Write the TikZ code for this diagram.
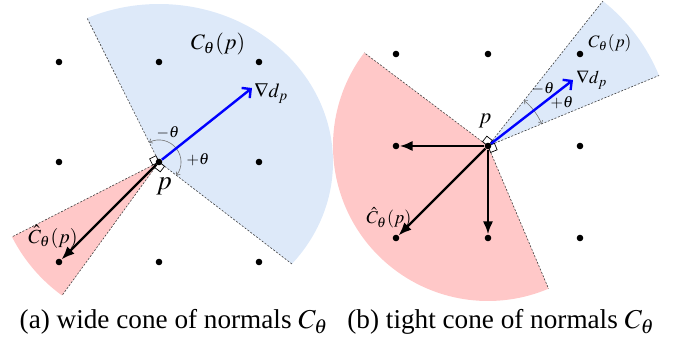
\documentclass[tikz,border=0pt]{standalone}
\usepackage{mathptmx}
\usepackage{fontspec}
\setmainfont{Liberation Serif}
\usetikzlibrary{arrows.meta,calc}
\definecolor{coneblue}{RGB}{221,233,249}
\definecolor{conered}{RGB}{255,200,200}
\definecolor{gradblue}{RGB}{0,0,255}
\begin{document}
\begin{tikzpicture}[x=0.5pt,y=0.5pt,
  coneedge/.style={draw=black!75,line width=0.3pt,dash pattern=on 1pt off 0.8pt},
  gridpt/.style={circle,fill=black,inner sep=0pt,minimum size=3.3pt},
  normarrow/.style={draw=black,line width=1.2pt,-{Latex[length=6.5pt,width=5.2pt]}},
  gradarrow/.style={draw=gradblue,line width=1.2pt,-{Straight Barb[length=3.2pt,width=6.5pt,line width=1.2pt]}},
  anglearc/.style={draw=black!55,line width=0.3pt,-{To[length=1.6pt,width=2.6pt]}},
  rightmark/.style={draw=black,fill=white,line width=0.35pt},
  lbl/.style={inner sep=0pt}]
\useasboundingbox (0,0) rectangle (677,343);
\clip (0,0) rectangle (677,343);

% ---------------- panel (a) ----------------
\coordinate (pac) at (159,181);
\coordinate (abr) at ($(pac)+(-40.2:174 and 158)$);
\coordinate (abl) at ($(pac)+(114.4:174 and 158)$);
\coordinate (aru) at ($(pac)+(207:165)$);
\coordinate (arl) at ($(pac)+(234:165)$);
\fill[coneblue] (pac) -- (abr) arc[start angle=-40.2,end angle=114.4,x radius=174,y radius=158] -- cycle;
\fill[conered] (pac) -- (aru) arc[start angle=207,end angle=234,radius=165] -- cycle;
\draw[coneedge] (pac) -- (abr);
\draw[coneedge] (pac) -- (abl);
\draw[coneedge] (pac) -- (aru);
\draw[coneedge] (pac) -- (arl);
\draw[anglearc] ($(pac)+(39:22)$) arc[start angle=39,end angle=116.4,radius=22];
\draw[anglearc] ($(pac)+(39:22)$) arc[start angle=39,end angle=-37.5,radius=22];
\draw[rightmark] (pac) -- ++(116.4:7) -- ++(206.4:7) -- ++(296.4:7) -- cycle;
\draw[rightmark] (pac) -- ++(-37.5:7) -- ++(232.5:7) -- ++(142.5:7) -- cycle;
\foreach \i/\x in {1/59,2/159,3/259}
  \foreach \j/\y in {1/281,2/181,3/81}
    \node[gridpt] (a\i\j) at (\x,\y) {};
\coordinate (ga) at (252,255);
\draw[gradarrow] (a22) -- (ga);
\draw[normarrow] (a22) -- (a13);
\node[lbl,font=\fontsize{11}{13}\selectfont] (aC) at (218,299) {$C_\theta(p)$};
\node[lbl,anchor=west,font=\fontsize{10}{12}\selectfont] (aG) at (254,250) {$\nabla d_p$};
\node[lbl,font=\fontsize{13.5}{15}\selectfont] (aP) at (164,157) {$p$};
\node[lbl,font=\fontsize{10}{12}\selectfont] (aCh) at (53,106) {$\hat{C}_\theta(p)$};
\node[lbl,font=\fontsize{8}{10}\selectfont] (amt) at (168,210) {$-\theta$};
\node[lbl,font=\fontsize{8}{10}\selectfont] (apt) at (198,183) {$+\theta$};

% ---------------- panel (b) ----------------
\coordinate (pbc) at (488,197);
\coordinate (bbu) at ($(pbc)+(51.6:185)$);
\coordinate (bbl) at ($(pbc)+(22.4:185)$);
\coordinate (bru) at ($(pbc)+(143:155)$);
\coordinate (brl) at ($(pbc)+(293:155)$);
\fill[coneblue] (pbc) -- (bbl) arc[start angle=22.4,end angle=51.6,radius=185] -- cycle;
\fill[conered] (pbc) -- (bru) arc[start angle=143,end angle=293,radius=155] -- cycle;
\draw[coneedge] (pbc) -- (bbu);
\draw[coneedge] (pbc) -- (bbl);
\draw[coneedge] (pbc) -- (bru);
\draw[coneedge] (pbc) -- (brl);
\draw[anglearc] ($(pbc)+(37.5:58)$) arc[start angle=37.5,end angle=51.6,radius=58];
\draw[anglearc] ($(pbc)+(37.5:58)$) arc[start angle=37.5,end angle=22.4,radius=58];
\draw[rightmark] (pbc) -- ++(51.6:7) -- ++(141.6:7) -- ++(231.6:7) -- cycle;
\draw[rightmark] (pbc) -- ++(22.4:7) -- ++(292.4:7) -- ++(202.4:7) -- cycle;
\foreach \i/\x in {1/396,2/488,3/580}
  \foreach \j/\y in {1/289,2/197,3/105}
    \node[gridpt] (b\i\j) at (\x,\y) {};
\coordinate (gb) at (573,263);
\draw[gradarrow] (b22) -- (gb);
\draw[normarrow] (b22) -- (b12);
\draw[normarrow] (b22) -- (b23);
\draw[normarrow] (b22) -- (b13);
\node[lbl,font=\fontsize{8.7}{10}\selectfont] (bC) at (610,300) {$C_\theta(p)$};
\node[lbl,anchor=west,font=\fontsize{9}{11}\selectfont] (bG) at (576,263) {$\nabla d_p$};
\node[lbl,font=\fontsize{11}{13}\selectfont] (bP) at (485,222) {$p$};
\node[lbl,font=\fontsize{9}{11}\selectfont] (bCh) at (389,125) {$\hat{C}_\theta(p)$};
\node[lbl,font=\fontsize{8}{10}\selectfont] (bmt) at (543,254) {$-\theta$};
\node[lbl,font=\fontsize{8}{10}\selectfont] (bpt) at (562,240) {$+\theta$};

% ---------------- captions ----------------
\node[lbl,font=\fontsize{13.6}{16}\selectfont] (capa) at (174,21) {(a) wide cone of normals $C_\theta$};
\node[lbl,font=\fontsize{13.6}{16}\selectfont] (capb) at (501,21) {(b) tight cone of normals $C_\theta$};
\end{tikzpicture}
\end{document}
